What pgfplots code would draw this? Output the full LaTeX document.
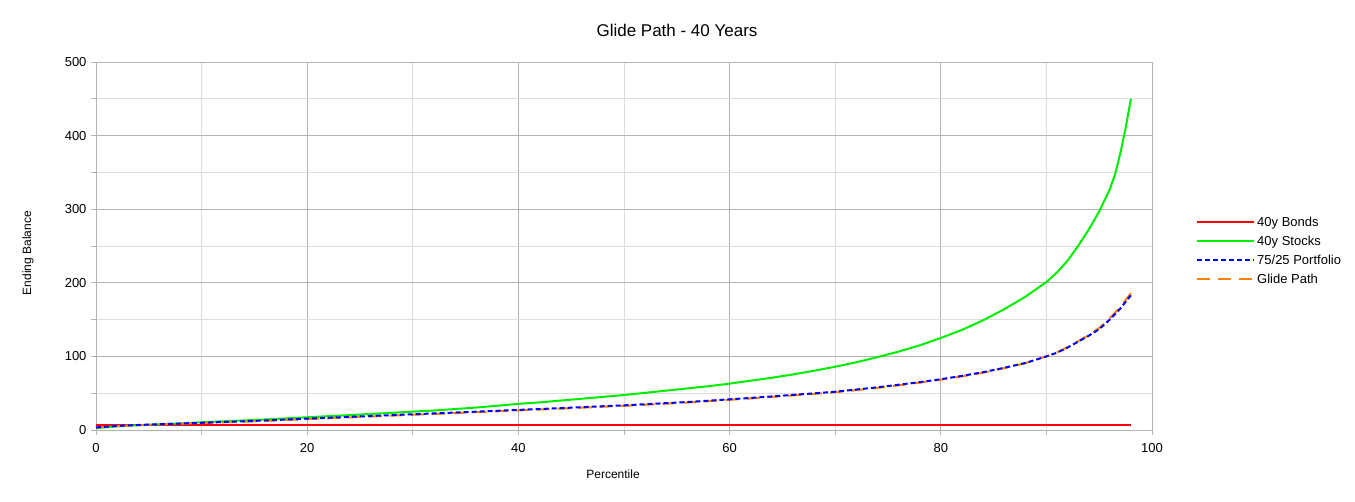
\documentclass[border=0pt]{standalone}
\usepackage{pgfplots}
\pgfplotsset{compat=1.18}
\usepackage{pgfplotstable}
\usepackage{fontspec}
\setmainfont{Liberation Sans}
\definecolor{gmaj}{HTML}{B3B3B3}
\definecolor{gmin}{HTML}{DDDDDD}
\definecolor{lored}{HTML}{FF0000}
\definecolor{logreen}{HTML}{00EE00}
\definecolor{loblue}{HTML}{0000FF}
\definecolor{loorange}{HTML}{FF8000}

\pgfplotstableread{
x y
0 7
98 7
}\bonds

\pgfplotstableread{
x y
0 2.5
2 5
4 6.5
6 7.8
8 9
10 10.5
12 11.8
14 13
16 14.3
18 15.8
20 17.3
22 18.8
24 20.2
26 21.8
28 23.3
30 25
32 26.5
34 28.5
36 30.5
38 33
40 35.5
42 37.5
44 40
46 42.5
48 45
50 47.5
52 50.5
54 53.5
56 56.5
58 59.5
60 63
62 67
64 71
66 75.5
68 80.5
70 86
72 92
74 99
76 106.5
78 115
80 125
82 136
84 149
86 164
88 181
90 201
91 214
92 230
93 250
94 272
95 297
96 327
96.5 347
97 376
97.5 410
98 450
}\stocks

\pgfplotstableread{
x y
0 3.5
2 5.5
4 6.8
6 7.8
8 8.8
10 9.8
12 10.8
14 11.8
16 13
18 14.2
20 15.5
22 16.6
24 17.8
26 19
28 20.2
30 21.4
32 22.5
34 23.7
36 24.9
38 26.1
40 27.3
42 28.5
44 29.7
46 31
48 32.3
50 33.5
52 35
54 36.5
56 38
58 39.8
60 41.7
62 43.6
64 45.6
66 47.7
68 49.8
70 52
72 55
74 58
76 61.5
78 65
80 69
82 73.5
84 78.5
86 84.5
88 91
90 100
91 105
92 112
93 120
94 128
95 137
96 150
97 165
98 183
}\portfolio

\pgfplotstableread{
x y
0 3.5
2 5.3
4 6.5
6 7.5
8 8.5
10 9.4
12 10.4
14 11.3
16 12.4
18 13.6
20 14.8
22 15.9
24 17.1
26 18.3
28 19.5
30 20.7
32 21.8
34 23
36 24.2
38 25.4
40 26.6
42 27.8
44 29
46 30.3
48 31.6
50 32.8
52 34.3
54 35.8
56 37.3
58 39.1
60 41
62 42.9
64 44.9
66 47
68 49.1
70 51.3
72 54.2
74 57.2
76 60.7
78 64.3
80 68.3
82 72.8
84 77.8
86 84
88 90.8
90 100
91 105.5
92 112.5
93 120.5
94 129
95 138.5
96 152
97 167
98 186
}\glide

\begin{document}
\begin{tikzpicture}
\useasboundingbox (-96bp,-72bp) rectangle (1259bp,430bp);
\begin{axis}[
  scale only axis,
  width=1056bp, height=368bp,
  at={(0,0)}, anchor=south west,
  xmin=0, xmax=100, ymin=0, ymax=500,
  xtick={0,20,...,100}, ytick={0,100,...,500},
  minor x tick num=1, minor y tick num=1,
  grid=both,
  major grid style={gmaj, line width=0.8bp},
  minor grid style={gmin, line width=0.8bp},
  axis line style={gmaj, line width=0.8bp},
  tick style={gmaj, line width=0.8bp},
  major tick length=5bp, minor tick length=5bp,
  tick align=outside, tick pos=left,
  ticklabel style={font=\fontsize{13bp}{15bp}\selectfont, text=black},
  /pgf/number format/assume math mode=true,
  xticklabel style={yshift=-5bp},
  yticklabel style={xshift=-1bp},
  clip=false,
  legend cell align=left,
  legend style={draw=none, fill=none, at={(rel axis cs:1,0.585)}, anchor=north west, xshift=44bp,
    font=\fontsize{13bp}{15bp}\selectfont, row sep=4bp, inner sep=0pt,
    /tikz/every even column/.append style={column sep=5bp}},
  legend image code/.code={\draw[#1] (0bp,0bp) -- (57bp,0bp);},
]
\addplot[lored, line width=2bp] table {\bonds};
\addlegendentry{40y Bonds}
\addplot[logreen, line width=2bp] table {\stocks};
\addlegendentry{40y Stocks}
\addplot[loorange, line width=2bp, dash pattern=on 13bp off 8bp, forget plot] table {\glide};
\addplot[loblue, line width=2bp, dash pattern=on 5bp off 3bp] table {\portfolio};
\addlegendentry{75/25 Portfolio}
\addlegendimage{loorange, line width=2bp, dash pattern=on 13bp off 8bp}
\addlegendentry{Glide Path}
\node[font=\fontsize{17bp}{20bp}\selectfont] at (rel axis cs:0.5502,1) [yshift=32bp] {Glide Path - 40 Years};
\node[font=\fontsize{12bp}{14bp}\selectfont] at (rel axis cs:0.4896,0) [yshift=-44bp] {Percentile};
\node[font=\fontsize{12bp}{14bp}\selectfont, xshift=-68bp, rotate=90] at (rel axis cs:0,0.481) {Ending Balance};
\end{axis}
\end{tikzpicture}
\end{document}
